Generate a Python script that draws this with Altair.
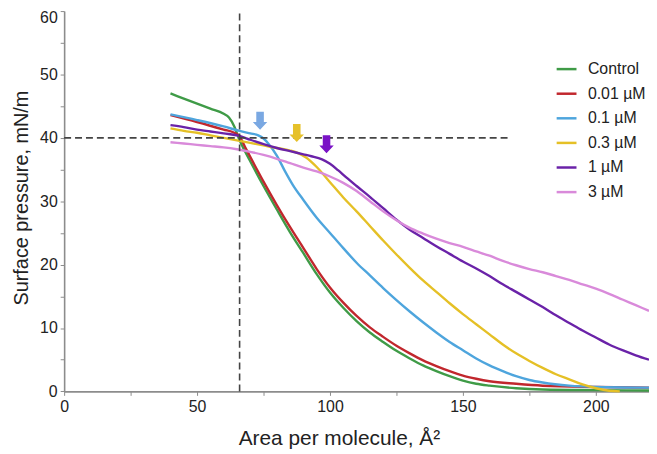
import altair as alt
import pandas as pd

series_names = ["Control", "0.01 µM", "0.1 µM", "0.3 µM", "1 µM", "3 µM"]
series_colors = ["#3f9b47", "#c1272d", "#4ea5dd", "#e5c026", "#6a22a8", "#d98ada"]

control_x = [40, 45, 50, 55, 60, 62, 64, 66, 68, 70, 75, 80, 85, 90, 95, 100, 105, 110, 115, 120,
             125, 130, 135, 140, 145, 150, 155, 160, 170, 180, 200, 220]
control_y = [47.0, 46.2, 45.4, 44.6, 43.8, 43.2, 41.8, 39.6, 37.9, 36.3, 32.4, 28.7, 25.1, 21.8, 18.5,
             15.6, 13.2, 11.1, 9.3, 7.8, 6.4, 5.2, 4.1, 3.2, 2.4, 1.7, 1.2, 0.9, 0.5, 0.3, 0.2, 0.15]

c001_x = [40, 50, 60, 64, 66, 68, 70, 75, 80, 85, 90, 95, 100, 105, 110, 115, 120, 125, 130, 135,
          140, 145, 150, 155, 160, 170, 180, 200, 220]
c001_y = [43.6, 42.5, 41.3, 40.8, 40.2, 38.6, 37.0, 33.1, 29.4, 25.9, 22.6, 19.3, 16.4, 14.0, 11.9,
          10.1, 8.6, 7.2, 6.0, 4.9, 4.0, 3.2, 2.5, 2.0, 1.6, 1.2, 0.9, 0.7, 0.6]

c01_x = [40, 50, 60, 66, 70, 73, 75, 77, 80, 83, 86, 90, 95, 100, 105, 110, 115, 120, 125, 130,
         135, 140, 145, 150, 155, 160, 165, 170, 175, 180, 190, 200, 220]
c01_y = [43.7, 42.8, 41.8, 41.1, 40.7, 40.4, 39.9, 39.0, 37.2, 34.8, 32.6, 30.2, 27.4, 25.0, 22.6,
         20.3, 18.3, 16.3, 14.4, 12.6, 10.9, 9.3, 7.8, 6.5, 5.2, 4.1, 3.2, 2.4, 1.8, 1.4, 0.9, 0.7, 0.6]

c03_x = [40, 45, 50, 55, 60, 65, 70, 75, 80, 85, 88, 91, 95, 100, 105, 110, 115, 120, 125, 130,
         135, 140, 145, 150, 155, 160, 165, 170, 175, 180, 185, 190, 195, 200, 205, 209]
c03_y = [41.5, 41.1, 40.8, 40.4, 40.0, 39.6, 39.2, 38.8, 38.4, 38.0, 37.6, 36.9, 35.4, 33.0, 30.6,
         28.4, 26.1, 23.8, 21.6, 19.5, 17.5, 15.7, 13.9, 12.2, 10.6, 9.0, 7.4, 6.0, 4.8, 3.7, 2.7,
         1.9, 1.1, 0.5, 0.1, 0.0]

c1_x = [40, 45, 50, 55, 60, 66, 70, 75, 80, 85, 90, 93, 97, 100, 103, 106, 110, 115, 120, 125, 130,
        135, 140, 145, 150, 155, 160, 165, 170, 175, 180, 185, 190, 195, 200, 205, 210, 215, 220]
c1_y = [42.0, 41.7, 41.3, 41.0, 40.7, 40.3, 39.7, 39.0, 38.4, 37.9, 37.4, 37.1, 36.6, 35.9, 34.9,
        33.8, 32.4, 30.7, 28.9, 27.1, 25.5, 24.2, 22.9, 21.7, 20.5, 19.4, 18.2, 16.9, 15.7, 14.5,
        13.3, 12.0, 10.8, 9.6, 8.5, 7.4, 6.5, 5.7, 5.0]

c3_x = [40, 45, 50, 55, 60, 65, 70, 75, 80, 85, 90, 95, 100, 105, 110, 115, 120, 125, 130, 135,
        140, 145, 150, 155, 160, 165, 170, 175, 180, 185, 190, 195, 200, 205, 210, 215, 220]
c3_y = [39.3, 39.1, 38.9, 38.7, 38.5, 38.2, 37.8, 37.3, 36.7, 36.0, 35.3, 34.7, 33.9, 32.9, 31.6,
        30.0, 28.4, 27.0, 25.8, 24.9, 24.1, 23.4, 22.8, 22.1, 21.4, 20.6, 19.9, 19.3, 18.8, 18.2,
        17.6, 16.9, 16.2, 15.4, 14.5, 13.6, 12.7]

arrow_x = [73.7, 87.5, 98.7]
arrow_y = [42.7, 40.75, 39.0]
arrow_colors = ["#7aa8e2", "#e6c12a", "#7a12c6"]

guide_x = [0, 66]
guide_x2 = [167, 66]
guide_y = [40, 0]
guide_y2 = [40, 60]

series_x = [control_x, c001_x, c01_x, c03_x, c1_x, c3_x]
series_y = [control_y, c001_y, c01_y, c03_y, c1_y, c3_y]

rows = []
for name, xs, ys in zip(series_names, series_x, series_y):
    for i, (a, b) in enumerate(zip(xs, ys)):
        rows.append({"x": a, "y": b, "series": name, "i": i})
curves = pd.DataFrame(rows)
guides = pd.DataFrame({"x": guide_x, "x2": guide_x2, "y": guide_y, "y2": guide_y2})
arrows = pd.DataFrame({"x": arrow_x, "y": arrow_y, "c": arrow_colors})

FONT = "Liberation Sans"
xs_scale = alt.Scale(domain=[0, 220], nice=False, zero=False)
ys_scale = alt.Scale(domain=[0, 60], nice=False)

x_axis = alt.Axis(
    values=list(range(0, 225, 25)), labelExpr="datum.value % 50 == 0 ? datum.label : ''",
    grid=False, domainColor="#8c8c8c", domainWidth=1.6, tickColor="#8c8c8c", tickSize=4,
    tickWidth=1, labelFont=FONT, labelFontSize=16, labelColor="#222222", labelPadding=3,
    title="Area per molecule, Å²", titleFont=FONT, titleFontSize=21, titleFontWeight="normal",
    titleColor="#222222", titleX=277, titleY=54, titleBaseline="alphabetic", titleAlign="center",
    labelFlush=False, labelOverlap=False,
)
y_axis = alt.Axis(
    values=list(range(0, 65, 5)), labelExpr="datum.value % 10 == 0 ? datum.label : ''",
    grid=False, domainColor="#8c8c8c", domainWidth=1.6, tickColor="#8c8c8c", tickSize=4,
    tickWidth=1, labelFont=FONT, labelFontSize=16, labelColor="#222222", labelPadding=3,
    labelOffset={"condition": {"test": "datum.value == 60", "value": 7}, "value": 0},
    title="Surface pressure, mN/m", titleFont=FONT, titleFontSize=20, titleFontWeight="normal",
    titleColor="#222222", titleX=-37, titleY=188, titleBaseline="alphabetic", titleAlign="center",
    titleAngle=270, labelFlush=False, labelOverlap=False,
)

xenc = alt.X("x:Q", scale=xs_scale, axis=x_axis)
yenc = alt.Y("y:Q", scale=ys_scale, axis=y_axis)

lines = alt.Chart(curves).mark_line(interpolate="monotone", strokeWidth=2.4).encode(
    x=xenc, y=yenc,
    color=alt.Color("series:N", scale=alt.Scale(domain=series_names, range=series_colors),
                    sort=series_names,
                    legend=alt.Legend(title=None, orient="none", legendX=495, legendY=47,
                                      symbolType="stroke", symbolSize=400, symbolStrokeWidth=2.5,
                                      labelFont=FONT, labelFontSize=16, labelColor="#222222",
                                      labelOffset=10, rowPadding=4.8, padding=0)),
    order="i:Q",
)

rules = alt.Chart(guides).mark_rule(color="#444444", strokeWidth=1.6, strokeDash=[7, 4]).encode(
    x=xenc, x2="x2:Q", y=yenc, y2="y2:Q"
)

arrow_path = "M -0.42 -1 L 0.42 -1 L 0.42 0.15 L 0.8 0.15 L 0 1 L -0.8 0.15 L -0.42 0.15 Z"
arrow_marks = alt.Chart(arrows).mark_point(shape=arrow_path, filled=True, size=330, opacity=1,
                                           strokeWidth=0).encode(
    x=xenc, y=yenc, color=alt.Color("c:N", scale=None)
)

chart = alt.layer(lines, rules, arrow_marks).properties(
    width=589.6, height=383.4,
    autosize=alt.AutoSizeParams(type="none"),
    padding={"left": 56.6, "top": 1.3, "right": 0, "bottom": 61},
).configure_view(stroke=None)

chart.save("out.html", embed_options={"renderer": "svg", "actions": False})
